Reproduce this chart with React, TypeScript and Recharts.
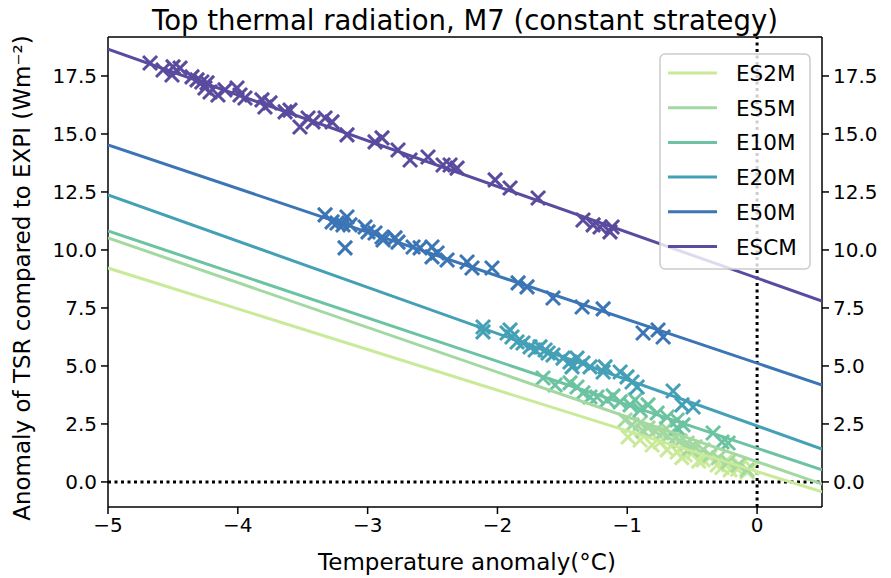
import { ComposedChart, Scatter, XAxis, YAxis, ReferenceLine } from 'recharts';

const W = 891;
const H = 578;
const FONT = '"DejaVu Sans", sans-serif';

const seriesNames = ['ES2M', 'ES5M', 'E10M', 'E20M', 'E50M', 'ESCM'];
const seriesColors = ['#c9ea98', '#a3d9a1', '#6cc3a1', '#44a0b6', '#3b75b5', '#5a4b9f'];

// fitted lines: value at x = -5 and at x = 0.5
const lineStart = [9.22, 10.52, 10.82, 12.37, 14.53, 18.66];
const lineEnd = [-0.43, -0.09, 0.52, 1.42, 4.18, 7.8];
const lineX = [-5, 0.5];

const es2mPts = [
    [-0.994, 1.94], [-0.901, 1.81], [-0.809, 1.59], [-0.747, 1.72], [-0.693, 1.38], [-0.616, 1.29],
    [-0.555, 1.16], [-0.493, 1.29], [-0.416, 0.95], [-0.362, 1.08], [-0.308, 0.73], [-0.247, 0.86],
    [-0.208, 0.52], [-0.131, 0.73], [-0.077, 0.43], [-0.039, 0.6], [-0.58, 1.05], [-0.45, 0.9],
    [-0.27, 0.62], [-0.15, 0.55],
];
const es5mPts = [
    [-1.017, 2.67], [-0.963, 2.46], [-0.901, 2.54], [-0.84, 2.33], [-0.786, 2.2], [-0.732, 2.11],
    [-0.686, 1.98], [-0.632, 1.9], [-0.593, 1.77], [-0.539, 1.68], [-0.478, 1.51], [-0.416, 1.38],
    [-0.362, 1.16], [-0.3, 1.03], [-0.223, 0.86], [-0.146, 0.73], [-0.077, 0.52], [-0.88, 2.2],
    [-0.7, 2.3], [-0.52, 1.45],
];
const e10mPts = [
    [-1.649, 4.48], [-1.556, 4.18], [-1.441, 4.27], [-1.387, 4.09], [-1.341, 3.84], [-1.287, 3.66],
    [-1.233, 3.66], [-1.156, 3.53], [-1.109, 3.71], [-1.055, 3.45], [-0.978, 3.32], [-0.94, 3.53],
    [-0.901, 3.1], [-0.84, 3.32], [-0.77, 2.97], [-0.693, 2.8], [-0.616, 2.67], [-0.57, 2.46],
    [-0.616, 2.33], [-0.339, 2.11], [-0.27, 1.72], [-0.223, 1.68],
];
const e20mPts = [
    [-2.111, 6.68], [-2.111, 6.47], [-1.926, 6.42], [-1.903, 6.55], [-1.888, 6.25], [-1.849, 6.03],
    [-1.803, 5.99], [-1.749, 5.82], [-1.71, 5.69], [-1.672, 5.82], [-1.633, 5.69], [-1.61, 5.56],
    [-1.572, 5.47], [-1.495, 5.34], [-1.441, 5.17], [-1.387, 5.34], [-1.425, 4.96], [-1.341, 5.13],
    [-1.287, 4.96], [-1.171, 4.96], [-1.186, 4.74], [-1.055, 4.74], [-1.002, 4.53], [-0.963, 4.31],
    [-0.924, 4.09], [-0.647, 3.92], [-0.578, 3.32], [-0.493, 3.23],
];
const e50mPts = [
    [-3.328, 11.51], [-3.274, 11.21], [-3.236, 11.16], [-3.159, 11.42], [-3.19, 11.08], [-3.136, 11.08],
    [-3.174, 10.09], [-3.02, 10.99], [-2.997, 10.78], [-2.943, 10.73], [-2.889, 10.56], [-2.881, 10.43],
    [-2.789, 10.52], [-2.766, 10.34], [-2.65, 10.13], [-2.596, 10.09], [-2.504, 10.13], [-2.504, 9.7],
    [-2.465, 9.87], [-2.388, 9.57], [-2.234, 9.48], [-2.196, 9.22], [-2.042, 9.22], [-1.841, 8.58],
    [-1.772, 8.41], [-1.572, 7.93], [-1.348, 7.54], [-1.186, 7.46], [-0.878, 6.42], [-0.763, 6.55],
    [-0.724, 6.25],
];
const escmPts = [
    [-4.676, 18.06], [-4.576, 17.76], [-4.499, 17.89], [-4.445, 17.84], [-4.507, 17.54], [-4.353, 17.46],
    [-4.314, 17.33], [-4.277, 17.24], [-4.237, 17.2], [-4.253, 16.98], [-4.214, 16.81], [-4.153, 16.68],
    [-4.099, 16.9], [-4.006, 16.98], [-3.983, 16.68], [-3.945, 16.55], [-3.814, 16.47], [-3.791, 16.16],
    [-3.752, 16.34], [-3.636, 15.95], [-3.598, 16.03], [-3.521, 15.3], [-3.459, 15.69], [-3.421, 15.52],
    [-3.328, 15.69], [-3.274, 15.52], [-3.159, 14.96], [-2.943, 14.66], [-2.889, 14.83], [-2.766, 14.31],
    [-2.673, 13.88], [-2.535, 14.01], [-2.419, 13.66], [-2.365, 13.66], [-2.311, 13.53], [-2.018, 13.02],
    [-1.903, 12.67], [-1.687, 12.24], [-1.341, 11.29], [-1.263, 11.08], [-1.21, 10.99], [-1.117, 10.99],
    [-1.133, 10.78],
];
const allPts = [es2mPts, es5mPts, e10mPts, e20mPts, e50mPts, escmPts];

const xTicks = [-5, -4, -3, -2, -1, 0];
const yTicks = [0, 2.5, 5, 7.5, 10, 12.5, 15, 17.5];
const xDomain = [-5, 0.5];
const yDomain = [-1.08, 19.18];

const tickStyle = { fill: '#000', fontSize: 20, fontFamily: FONT };
const fmtX = (v: number) => (v < 0 ? '\u2212' + Math.abs(v) : String(v));
const fmtY = (v: number) => v.toFixed(1);

function XMark({ cx, cy, color }: { cx?: number; cy?: number; color: string }) {
    if (cx == null || cy == null) return <g />;
    const r = 7;
    return (
        <path
            d={`M${cx - r},${cy - r}L${cx + r},${cy + r}M${cx - r},${cy + r}L${cx + r},${cy - r}`}
            stroke={color}
            strokeWidth={3}
            fill="none"
        />
    );
}

export default function App() {
    return (
        <div style={{ position: 'absolute', left: 0, top: 0, width: W, height: H, background: '#fff' }}>
            <ComposedChart width={W} height={H} margin={{ top: 37, right: 0, bottom: 0, left: 0 }}>
                <XAxis
                    type="number"
                    dataKey="x"
                    domain={xDomain}
                    ticks={xTicks}
                    allowDataOverflow
                    tickFormatter={fmtX}
                    tick={tickStyle}
                    tickSize={7}
                    tickMargin={4}
                    height={71}
                    axisLine={{ stroke: '#000', strokeWidth: 1.5 }}
                    tickLine={{ stroke: '#000', strokeWidth: 1.5 }}
                />
                <YAxis
                    type="number"
                    dataKey="y"
                    domain={yDomain}
                    ticks={yTicks}
                    allowDataOverflow
                    tickFormatter={fmtY}
                    tick={tickStyle}
                    tickSize={7}
                    tickMargin={4}
                    width={108}
                    axisLine={{ stroke: '#000', strokeWidth: 1.5 }}
                    tickLine={{ stroke: '#000', strokeWidth: 1.5 }}
                />
                <YAxis
                    yAxisId="right"
                    orientation="right"
                    type="number"
                    domain={yDomain}
                    ticks={yTicks}
                    allowDataOverflow
                    tickFormatter={fmtY}
                    tick={{ ...tickStyle, textAnchor: 'start' }}
                    tickSize={7}
                    tickMargin={4}
                    width={69}
                    axisLine={{ stroke: '#000', strokeWidth: 1.5 }}
                    tickLine={{ stroke: '#000', strokeWidth: 1.5 }}
                />
                <ReferenceLine y={yDomain[1]} stroke="#000" strokeWidth={1.5} />
                <ReferenceLine y={0} stroke="#000" strokeWidth={3} strokeDasharray="3 3.5" />
                <ReferenceLine x={0} stroke="#000" strokeWidth={3} strokeDasharray="3 3.5" />
                {seriesNames.map((name, i) => (
                    <Scatter
                        key={name + '-pts'}
                        name={name + ' points'}
                        data={allPts[i].map(([x, y]) => ({ x, y }))}
                        fill={seriesColors[i]}
                        shape={(p: any) => <XMark cx={p.cx} cy={p.cy} color={seriesColors[i]} />}
                        isAnimationActive={false}
                    />
                ))}
                {seriesNames.map((name, i) => (
                    <Scatter
                        key={name + '-line'}
                        name={name}
                        data={[
                            { x: lineX[0], y: lineStart[i] },
                            { x: lineX[1], y: lineEnd[i] },
                        ]}
                        line={{ stroke: seriesColors[i], strokeWidth: 3 }}
                        shape={() => <g />}
                        isAnimationActive={false}
                    />
                ))}
            </ComposedChart>
            <svg
                width={W}
                height={H}
                style={{ position: 'absolute', left: 0, top: 0, pointerEvents: 'none' }}
                fontFamily={FONT}
            >
                <text x={465} y={30} textAnchor="middle" fontSize={27.5} fill="#000">
                    Top thermal radiation, M7 (constant strategy)
                </text>
                <text x={467} y={570} textAnchor="middle" fontSize={23} fill="#000">
                    Temperature anomaly(°C)
                </text>
                <text
                    x={0}
                    y={0}
                    transform="translate(30,278) rotate(-90)"
                    textAnchor="middle"
                    fontSize={23}
                    fill="#000"
                >
                    Anomaly of TSR compared to EXPI (Wm⁻²)
                </text>
                <rect x={660} y={54} width={150} height={215} rx={5} fill="#fff" fillOpacity={0.8} stroke="#ccc" strokeWidth={1.5} />
                {seriesNames.map((name, i) => (
                    <g key={name}>
                        <line x1={668} x2={717} y1={73 + i * 34.7} y2={73 + i * 34.7} stroke={seriesColors[i]} strokeWidth={3} />
                        <text x={736} y={81 + i * 34.7} fontSize={21.5} fill="#000">
                            {name}
                        </text>
                    </g>
                ))}
            </svg>
        </div>
    );
}
